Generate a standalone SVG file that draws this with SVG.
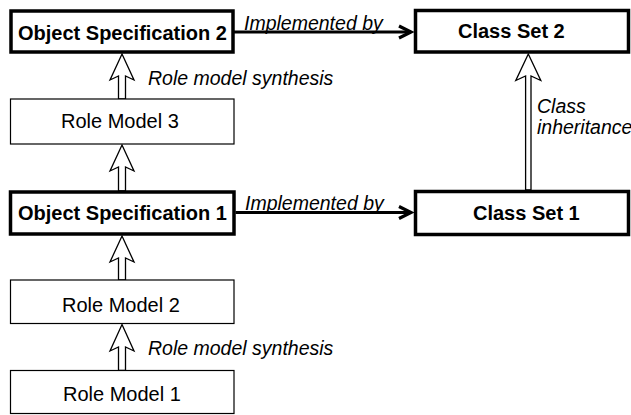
<svg xmlns="http://www.w3.org/2000/svg" width="631" height="415" viewBox="0 0 631 415">
<style>
  .thick { fill: #fff; stroke: #000; stroke-width: 3.5; }
  .thin { fill: #fff; stroke: #000; stroke-width: 1.2; }
  .bold { font-family: "Liberation Sans", Arial, sans-serif; font-size: 20px; font-weight: bold; fill: #000; }
  .reg { font-family: "Liberation Sans", Arial, sans-serif; font-size: 20px; fill: #000; }
  .lbl { font-family: "Liberation Sans", Arial, sans-serif; font-size: 19.5px; font-style: italic; fill: #000; }
  .impl { fill: none; stroke: #000; stroke-width: 3.2; marker-end: url(#chev); }
  .hollow { fill: #fff; stroke: #000; stroke-width: 1.3; stroke-linejoin: miter; }
</style>
<defs>
  <marker id="chev" markerUnits="userSpaceOnUse" viewBox="0 0 16 16" refX="13" refY="7" markerWidth="16" markerHeight="16" orient="auto" overflow="visible">
    <path d="M1,1 L13,7 L1,13" fill="none" stroke="#000" stroke-width="3.2"/>
  </marker>
</defs>
<rect width="631" height="415" fill="#fff"/>

<g id="connectors">
  <path class="impl" d="M234,32 L411,32"/>
  <path class="impl" d="M235.5,212.5 L411,212.5"/>
  <polygon class="hollow" points="122,54 134,80 125.5,76 125.5,99 118.5,99 118.5,76 110,80"/>
  <polygon class="hollow" points="122,145 134,171 125.5,167 125.5,191 118.5,191 118.5,167 110,171"/>
  <polygon class="hollow" points="122,236 134,262 125.5,258 125.5,280 118.5,280 118.5,258 110,262"/>
  <polygon class="hollow" points="122,324.5 134,351 125.5,347 125.5,370.5 118.5,370.5 118.5,347 110,351"/>
  <polygon class="hollow" points="528.3,54 540.8,80.5 531,76 531,190 525.6,190 525.6,76 515.8,80.5"/>
  <text class="lbl" x="244" y="30">Implemented by</text>
  <text class="lbl" x="245" y="210">Implemented by</text>
  <text class="lbl" x="148" y="85">Role model synthesis</text>
  <text class="lbl" x="148" y="355">Role model synthesis</text>
  <text class="lbl" x="537" y="113">Class</text>
  <text class="lbl" x="537" y="134">inheritance</text>
</g>

<g id="os2">
  <rect class="thick" x="11" y="11" width="222" height="41"/>
  <text class="bold" x="18" y="40">Object Specification 2</text>
</g>
<g id="cs2">
  <rect class="thick" x="415.5" y="10.5" width="213" height="41.5"/>
  <text class="bold" x="458" y="38">Class Set 2</text>
</g>
<g id="rm3">
  <rect class="thin" x="10.5" y="99" width="223.5" height="45"/>
  <text class="reg" x="61" y="128">Role Model 3</text>
</g>
<g id="os1">
  <rect class="thick" x="10.5" y="192" width="223.5" height="42"/>
  <text class="bold" x="18" y="220">Object Specification 1</text>
</g>
<g id="cs1">
  <rect class="thick" x="415.5" y="191.5" width="213" height="43"/>
  <text class="bold" x="473" y="220">Class Set 1</text>
</g>
<g id="rm2">
  <rect class="thin" x="10.5" y="280" width="223.5" height="43.5"/>
  <text class="reg" x="62" y="312">Role Model 2</text>
</g>
<g id="rm1">
  <rect class="thin" x="10.5" y="370.5" width="223.5" height="43"/>
  <text class="reg" x="63" y="401">Role Model 1</text>
</g>
</svg>
